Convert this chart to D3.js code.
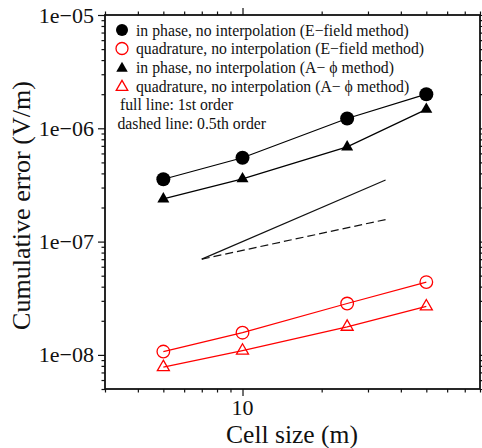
<!DOCTYPE html>
<html>
<head>
<meta charset="utf-8">
<script src="https://cdn.jsdelivr.net/npm/d3@7"></script>
<style>
  html, body { margin: 0; padding: 0; background: #fff; }
  svg { display: block; }
  text { font-family: "Liberation Serif", "Times New Roman", serif; fill: #111; }
</style>
</head>
<body>
<svg id="chart" width="482" height="448"></svg>
<script>
// Cell sizes (m) and cumulative errors (V/m)
const cellSize    = [5, 10, 25, 50];
const inPhaseE    = [3.55e-7, 5.5e-7, 1.22e-6, 2.0e-6];
const quadratureE = [1.07e-8, 1.57e-8, 2.84e-8, 4.39e-8];
const inPhaseA    = [2.38e-7, 3.58e-7, 6.85e-7, 1.47e-6];
const quadratureA = [7.8e-9, 1.09e-8, 1.77e-8, 2.68e-8];

// Convergence-order guide lines
const refX       = [7, 35];
const firstOrder = [7e-8, 3.5e-7];
const halfOrder  = [7e-8, 1.565e-7];

// Axis ticks
const xMajorTicks = [10];
const xMajorLabels = ["10"];
const xMinorTicks = [3, 4, 5, 6, 7, 8, 9, 20, 30, 40, 50, 60, 70, 80];
const yMajorTicks = [1e-8, 1e-7, 1e-6, 1e-5];
const yMajorLabels = ["1e\u221208", "1e\u221207", "1e\u221206", "1e\u221205"];
const yMinorTicks = [5e-9, 6e-9, 7e-9, 8e-9, 9e-9,
  2e-8, 3e-8, 4e-8, 5e-8, 6e-8, 7e-8, 8e-8, 9e-8,
  2e-7, 3e-7, 4e-7, 5e-7, 6e-7, 7e-7, 8e-7, 9e-7,
  2e-6, 3e-6, 4e-6, 5e-6, 6e-6, 7e-6, 8e-6, 9e-6];

// Legend entries
const legendLabels = [
  "in phase, no interpolation (E\u2212field method)",
  "quadrature, no interpolation (E\u2212field method)",
  "in phase, no interpolation (A\u2212 \u03d5 method)",
  "quadrature, no interpolation (A\u2212 \u03d5 method)"
];
const noteLabels = ["full line: 1st order", "dashed line: 0.5th order"];

const svg = d3.select("#chart");
const L = 105, R = 480, T = 15, B = 389;

const x = d3.scaleLog().domain([3, 80]).range([L, R]);
const y = d3.scaleLog().domain([5e-9, 1e-5]).range([B, T]);

// scale a text's font size so that it spans the given width
function fitFont(sel, width) {
  const node = sel.node();
  const fs = parseFloat(sel.attr("font-size"));
  const w = node.getComputedTextLength();
  if (w > 0) sel.attr("font-size", (fs * width / w).toFixed(2));
  return sel;
}

// ticks on all four sides, pointing outward
function tickAxis(axisFn, scale, values, size, transform) {
  const g = svg.append("g").attr("transform", transform)
    .call(axisFn(scale).tickValues(values).tickSize(size).tickSizeOuter(0).tickFormat(""));
  g.select(".domain").remove();
  g.selectAll(".tick line").attr("stroke", "#111").attr("stroke-width", 1.2);
  return g;
}
tickAxis(d3.axisBottom, x, xMinorTicks, 3.5, `translate(0,${B})`);
tickAxis(d3.axisBottom, x, xMajorTicks, 7, `translate(0,${B})`);
tickAxis(d3.axisTop, x, xMinorTicks, 3.5, `translate(0,${T})`);
tickAxis(d3.axisTop, x, xMajorTicks, 7, `translate(0,${T})`);
tickAxis(d3.axisLeft, y, yMinorTicks, 3.5, `translate(${L},0)`);
tickAxis(d3.axisLeft, y, yMajorTicks, 7, `translate(${L},0)`);
tickAxis(d3.axisRight, y, yMinorTicks, 3.5, `translate(${R},0)`);
tickAxis(d3.axisRight, y, yMajorTicks, 7, `translate(${R},0)`);

// tick labels
svg.append("g").selectAll("text").data(xMajorTicks).join("text")
  .attr("x", d => x(d)).attr("y", 414.5)
  .attr("text-anchor", "middle").attr("font-size", 22)
  .text((d, i) => xMajorLabels[i]);
svg.append("g").selectAll("text").data(yMajorTicks).join("text")
  .attr("x", 94).attr("y", d => y(d) + 7.5)
  .attr("text-anchor", "end").attr("font-size", 22)
  .text((d, i) => yMajorLabels[i]);

// axis titles
fitFont(svg.append("text").attr("x", 292).attr("y", 442.5)
  .attr("text-anchor", "middle").attr("font-size", 26)
  .text("Cell size (m)"), 132);
fitFont(svg.append("text").attr("transform", "translate(30,205.5) rotate(-90)")
  .attr("text-anchor", "middle").attr("font-size", 26)
  .text("Cumulative error (V/m)"), 249);

// frame
svg.append("rect").attr("x", L).attr("y", T).attr("width", R - L).attr("height", B - T)
  .attr("fill", "none").attr("stroke", "#111").attr("stroke-width", 1.8);

// guide lines
const guide = d3.line().x(d => x(d[0])).y(d => y(d[1]));
svg.append("path").datum(refX.map((v, i) => [v, firstOrder[i]]))
  .attr("d", guide).attr("fill", "none").attr("stroke", "#111").attr("stroke-width", 1.2);
svg.append("path").datum(refX.map((v, i) => [v, halfOrder[i]]))
  .attr("d", guide).attr("fill", "none").attr("stroke", "#111").attr("stroke-width", 1.2)
  .attr("stroke-dasharray", "8,4");

// marker shapes
function triPath(s) {
  const h = s / Math.sqrt(3);
  return `M0,${-h}L${s / 2},${h / 2}L${-s / 2},${h / 2}Z`;
}
function drawMarker(g, kind, color, filled, size) {
  if (kind === "circle") {
    g.append("circle").attr("r", size)
      .attr("fill", filled ? color : "none")
      .attr("stroke", color).attr("stroke-width", filled ? 0 : 1.3);
  } else {
    g.append("path").attr("d", triPath(size))
      .attr("fill", filled ? color : "none")
      .attr("stroke", color).attr("stroke-width", filled ? 0 : 1.3)
      .attr("stroke-linejoin", "miter");
  }
}

const series = [
  { values: inPhaseE,    color: "#000", kind: "circle",   filled: true,  size: 7 },
  { values: quadratureE, color: "#ff0000", kind: "circle",   filled: false, size: 6.3 },
  { values: inPhaseA,    color: "#000", kind: "triangle", filled: true,  size: 12 },
  { values: quadratureA, color: "#ff0000", kind: "triangle", filled: false, size: 12 }
];

const line = d3.line().x(d => x(d[0])).y(d => y(d[1]));
series.forEach(s => {
  const pts = cellSize.map((c, i) => [c, s.values[i]]);
  svg.append("path").datum(pts).attr("d", line)
    .attr("fill", "none").attr("stroke", s.color).attr("stroke-width", 1.2);
  pts.forEach(p => {
    const g = svg.append("g").attr("transform", `translate(${x(p[0])},${y(p[1])})`);
    drawMarker(g, s.kind, s.color, s.filled, s.size);
  });
});

// legend: one font size for all entries, sized from the second row's width
const legendRows = [30, 48.5, 67.5, 86];
const legendTexts = [];
series.forEach((s, i) => {
  const g = svg.append("g").attr("transform", `translate(122,${legendRows[i] + (s.kind === "triangle" ? 1 : 0)})`);
  drawMarker(g, s.kind, s.color, s.filled, s.kind === "circle" ? 6 : 11.5);
  legendTexts.push(svg.append("text").attr("x", 136).attr("y", legendRows[i] + 5.5)
    .attr("font-size", 15.6).text(legendLabels[i]));
});
legendTexts.push(svg.append("text").attr("x", 120).attr("y", 110).attr("font-size", 15.6).text(noteLabels[0]));
legendTexts.push(svg.append("text").attr("x", 117.5).attr("y", 128.5).attr("font-size", 15.6).text(noteLabels[1]));
fitFont(legendTexts[1], 288);
const legendSize = legendTexts[1].attr("font-size");
legendTexts.forEach(t => t.attr("font-size", legendSize));
</script>
</body>
</html>
